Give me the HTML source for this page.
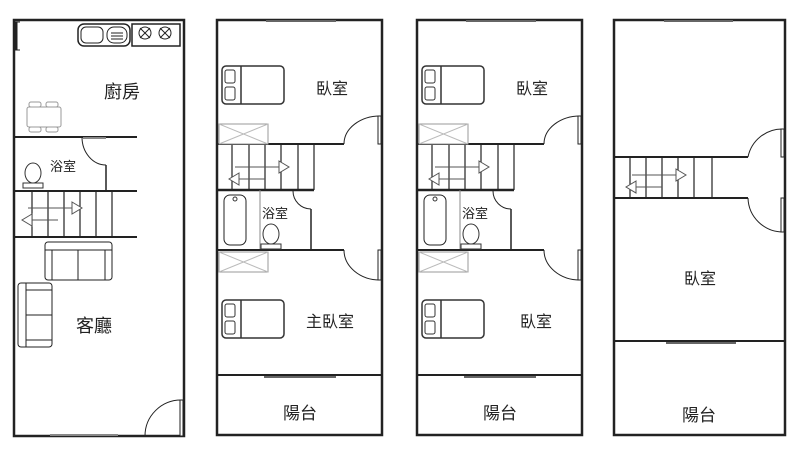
<!DOCTYPE html>
<html><head><meta charset="utf-8"><style>
html,body{margin:0;padding:0;background:#fff;}
svg{display:block}
text{font-family:"Liberation Sans","Noto Sans CJK TC",sans-serif;fill:#222}
</style></head><body>
<svg width="800" height="449" viewBox="0 0 800 449" xmlns="http://www.w3.org/2000/svg">
<defs>
<g id="bed">
<rect x="0" y="0" width="62" height="38" rx="4" fill="#fff" stroke="#333" stroke-width="1.5"/>
<line x1="19" y1="0" x2="19" y2="38" stroke="#333" stroke-width="1.5"/>
<rect x="3" y="4" width="10" height="13" rx="2" fill="#fff" stroke="#333"/>
<rect x="3" y="21" width="10" height="13" rx="2" fill="#fff" stroke="#333"/>
</g>
<g id="hatch">
<rect x="0" y="0" width="49" height="20" fill="#fff" stroke="#999"/>
<line x1="0" y1="0" x2="49" y2="20" stroke="#bbb"/>
<line x1="0" y1="20" x2="49" y2="0" stroke="#bbb"/>
</g>
<g id="arrows" fill="#fff" stroke="#555">
<line x1="14" y1="11" x2="58" y2="11"/>
<polygon points="58,5 68,11 58,17"/>
<line x1="8" y1="23" x2="44" y2="23"/>
<polygon points="18,17 8,23 18,29"/>
</g>
<g id="toilet" fill="#fff" stroke="#333">
<ellipse cx="0" cy="0" rx="8" ry="10"/>
<rect x="-10" y="10" width="20" height="5"/>
</g>
</defs>

<!-- PLAN 1 -->
<g stroke="#222" fill="none">
<rect x="14" y="20" width="170" height="416" stroke-width="2.5"/>
<line x1="16" y1="22" x2="16" y2="50" stroke-width="3"/>
<line x1="13" y1="22" x2="20" y2="22"/><line x1="13" y1="50" x2="20" y2="50"/>
<!-- sink -->
<rect x="78" y="24" width="52" height="22" rx="6" stroke-width="1.5"/>
<rect x="81" y="27" width="22" height="16" rx="5"/>
<rect x="107" y="27" width="20" height="16" rx="7"/>
<line x1="111" y1="33" x2="123" y2="33"/><line x1="111" y1="36" x2="123" y2="36"/><line x1="111" y1="39" x2="123" y2="39"/>
<!-- stove -->
<rect x="132" y="24" width="48" height="22" stroke-width="1.5"/>
<circle cx="145" cy="33" r="6"/><circle cx="165" cy="33" r="6"/>
<line x1="140" y1="28" x2="150" y2="38"/><line x1="150" y1="28" x2="140" y2="38"/>
<line x1="160" y1="28" x2="170" y2="38"/><line x1="170" y1="28" x2="160" y2="38"/>
<!-- table -->
<rect x="27" y="107" width="34" height="20" rx="2" stroke="#999"/>
<rect x="29" y="102" width="12" height="5" rx="2" stroke="#999"/><rect x="46" y="102" width="12" height="5" rx="2" stroke="#999"/>
<rect x="29" y="127" width="12" height="5" rx="2" stroke="#999"/><rect x="46" y="127" width="12" height="5" rx="2" stroke="#999"/>
<!-- walls -->
<line x1="14" y1="137" x2="137" y2="137" stroke-width="2"/>
<line x1="83" y1="138" x2="106" y2="138" stroke="#888" stroke-width="2"/>
<path d="M82,137 A24,28 0 0 0 106,165"/>
<line x1="106" y1="165" x2="106" y2="191" stroke-width="1.5"/>
<line x1="14" y1="191" x2="137" y2="191" stroke-width="2"/>
<line x1="14" y1="237" x2="137" y2="237" stroke-width="2"/>
<g stroke-width="1.2"><line x1="32" y1="191" x2="32" y2="237"/><line x1="48" y1="191" x2="48" y2="237"/><line x1="64" y1="191" x2="64" y2="237"/><line x1="80" y1="191" x2="80" y2="237"/><line x1="96" y1="191" x2="96" y2="237"/><line x1="112" y1="191" x2="112" y2="237"/></g>
<!-- sofas -->
<rect x="45" y="242" width="67" height="38" rx="3"/>
<line x1="45" y1="250" x2="112" y2="250"/><line x1="52" y1="250" x2="52" y2="280"/><line x1="105" y1="250" x2="105" y2="280"/><line x1="78" y1="250" x2="78" y2="280"/>
<rect x="18" y="283" width="34" height="64" rx="3"/>
<line x1="26" y1="283" x2="26" y2="347"/><line x1="26" y1="290" x2="52" y2="290"/><line x1="26" y1="340" x2="52" y2="340"/><line x1="26" y1="315" x2="52" y2="315"/>
<!-- door & window -->
<path d="M145,436 A36,36 0 0 1 181,400"/>
<rect x="180" y="400" width="3" height="36" fill="#fff"/>
<line x1="50" y1="435" x2="118" y2="435" stroke="#888" stroke-width="2"/>
</g>
<use href="#toilet" x="33" y="173"/>
<use href="#arrows" x="14" y="197"/>
<text x="104" y="98" font-size="18">廚房</text>
<text x="50" y="171" font-size="13">浴室</text>
<text x="76" y="332" font-size="18">客廳</text>

<!-- PLAN 2 / 3 template -->
<g id="p2">
<g stroke="#222" fill="none">
<rect x="217" y="20" width="165" height="415" stroke-width="2.5"/>
<line x1="266" y1="21" x2="336" y2="21" stroke="#666" stroke-width="2"/>
<line x1="217" y1="144" x2="344" y2="144" stroke-width="2"/>
<path d="M344,144 A36,28 0 0 1 380,116"/>
<rect x="378" y="116" width="3" height="28" fill="#fff"/>
<g stroke-width="1.2"><line x1="232" y1="144" x2="232" y2="190"/><line x1="249" y1="144" x2="249" y2="190"/><line x1="265" y1="144" x2="265" y2="190"/><line x1="281" y1="144" x2="281" y2="190"/><line x1="298" y1="144" x2="298" y2="190"/><line x1="314" y1="144" x2="314" y2="190"/></g>
<line x1="217" y1="190" x2="314" y2="190" stroke-width="2.5"/>
<rect x="224" y="195" width="22" height="50" rx="6"/>
<line x1="260" y1="190" x2="260" y2="250" stroke="#888"/>
<path d="M293,191 A18,18 0 0 0 311,209"/>
<line x1="311" y1="209" x2="311" y2="250" stroke-width="1.5"/>
<line x1="217" y1="250" x2="344" y2="250" stroke-width="2"/>
<path d="M344,250 A36,30 0 0 0 380,280"/>
<rect x="378" y="250" width="3" height="30" fill="#fff"/>
<line x1="217" y1="375" x2="382" y2="375" stroke-width="2"/>
<line x1="264" y1="377" x2="336" y2="377" stroke="#666" stroke-width="2"/>
</g>
<circle cx="235" cy="199" r="2" fill="none" stroke="#333"/>
<use href="#toilet" x="271" y="234"/>
<use href="#bed" x="222" y="66"/>
<use href="#bed" x="222" y="300"/>
<use href="#hatch" x="219" y="124"/>
<use href="#hatch" x="219" y="252"/>
<use href="#arrows" x="221" y="156"/>
<text x="316" y="94" font-size="16">臥室</text>
<text x="262" y="218" font-size="13">浴室</text>
</g>
<text x="306" y="327" font-size="16">主臥室</text>
<text x="283" y="419" font-size="17">陽台</text>

<use href="#p2" x="200" y="0"/>
<text x="520" y="327" font-size="16">臥室</text>
<text x="483" y="419" font-size="17">陽台</text>

<!-- PLAN 4 -->
<g stroke="#222" fill="none">
<rect x="614" y="20" width="171" height="415" stroke-width="2.5"/>
<line x1="664" y1="21" x2="733" y2="21" stroke="#666" stroke-width="2"/>
<line x1="614" y1="157" x2="748" y2="157" stroke-width="2"/>
<path d="M748,157 A35,35 0 0 1 783,129"/>
<rect x="781" y="129" width="3" height="28" fill="#fff"/>
<g stroke-width="1.2"><line x1="630" y1="157" x2="630" y2="198"/><line x1="646" y1="157" x2="646" y2="198"/><line x1="662" y1="157" x2="662" y2="198"/><line x1="678" y1="157" x2="678" y2="198"/><line x1="694" y1="157" x2="694" y2="198"/><line x1="712" y1="157" x2="712" y2="198"/></g>
<line x1="614" y1="198" x2="748" y2="198" stroke-width="2"/>
<path d="M748,198 A35,35 0 0 0 783,232"/>
<rect x="781" y="198" width="3" height="34" fill="#fff"/>
<line x1="614" y1="341" x2="785" y2="341" stroke-width="2"/>
<line x1="666" y1="343" x2="736" y2="343" stroke="#666" stroke-width="2"/>
</g>
<use href="#arrows" x="618" y="164"/>
<text x="684" y="284" font-size="16">臥室</text>
<text x="682" y="421" font-size="17">陽台</text>
</svg>
</body></html>
